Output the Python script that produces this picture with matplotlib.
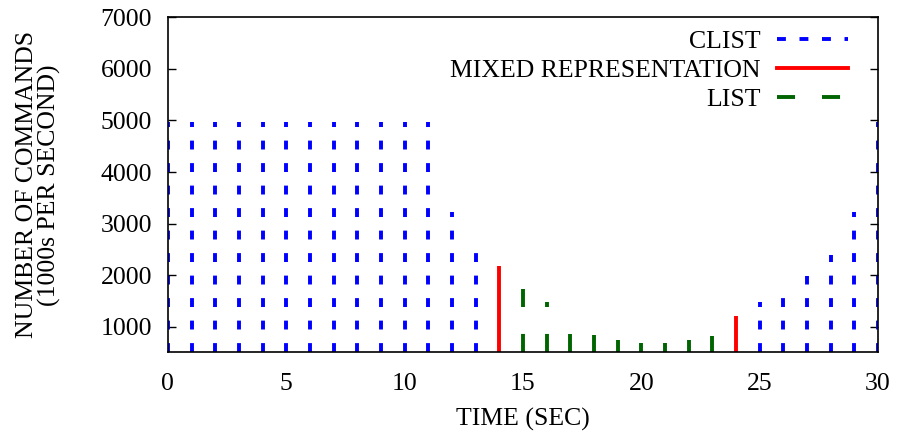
import matplotlib
matplotlib.use("Agg")
import matplotlib.pyplot as plt

plt.rcParams["font.family"] = ["Liberation Serif", "DejaVu Serif"]
plt.rcParams["lines.scale_dashes"] = False

# ---- data ----
clist_x = [0, 1, 2, 3, 4, 5, 6, 7, 8, 9, 10, 11, 12, 13, 25, 26, 27, 28, 29, 30]
clist_y = [4970, 4960, 4960, 4960, 4960, 4960, 4960, 4960, 4960, 4960, 4960, 4960,
           3220, 2450, 1470, 1560, 1980, 2400, 3220, 4960]
mixed_x = [14, 24]
mixed_y = [2170, 1200]
list_x = [15, 16, 17, 18, 19, 20, 21, 22, 23]
list_y = [1730, 1480, 850, 830, 750, 690, 690, 750, 820]

x_ticks = [0, 5, 10, 15, 20, 25, 30]
y_ticks = [1000, 2000, 3000, 4000, 5000, 6000, 7000]
XMIN, XMAX = 0, 30
YMIN, YMAX = 500, 7000

labels = ["CLIST", "MIXED REPRESENTATION", "LIST"]
colors = ["#0000ff", "#ff0000", "#006400"]
styles = [(0, (6.4, 9.8)), "solid", (0, (13.0, 19.4))]

FS = 18.5
LW = 2.8

fig = plt.figure(figsize=(8.98, 4.37), dpi=100)
ax = fig.add_axes([0.187, 0.1934, 0.7907, 0.767])

series = [(clist_x, clist_y), (mixed_x, mixed_y), (list_x, list_y)]
handles = []
for (xs, ys), c, ls, lab in zip(series, colors, styles, labels):
    ax.vlines(xs, YMIN, ys, colors=c, linestyles=ls, linewidth=LW)
    h, = ax.plot([], [], color=c, linestyle=ls, linewidth=LW, label=lab)
    handles.append(h)

ax.set_xlim(XMIN, XMAX)
ax.set_ylim(YMIN, YMAX)
ax.set_xticks(x_ticks)
ax.set_yticks(y_ticks)
ax.tick_params(axis="x", length=0, pad=15, labelsize=FS)
ax.tick_params(axis="y", direction="in", length=6, width=1.0, pad=11.5,
               labelsize=FS, right=True)
for s in ax.spines.values():
    s.set_linewidth(1.2)

ax.set_xlabel("TIME (SEC)", fontsize=FS, labelpad=9)
ax.set_ylabel("NUMBER OF COMMANDS\n(1000s PER SECOND)", fontsize=FS,
              linespacing=1.0, multialignment="center")
ax.yaxis.set_label_coords(-0.150, 0.5)

leg = ax.legend(handles=handles, loc="upper right", bbox_to_anchor=(0.958, 0.962),
                frameon=False, markerfirst=False, fontsize=FS, handlelength=2.75,
                handletextpad=0.65, labelspacing=0.23, borderpad=0, borderaxespad=0)
for col in leg._legend_handle_box.get_children():
    col.align = "right"

fig.savefig("out.png", dpi=100)
